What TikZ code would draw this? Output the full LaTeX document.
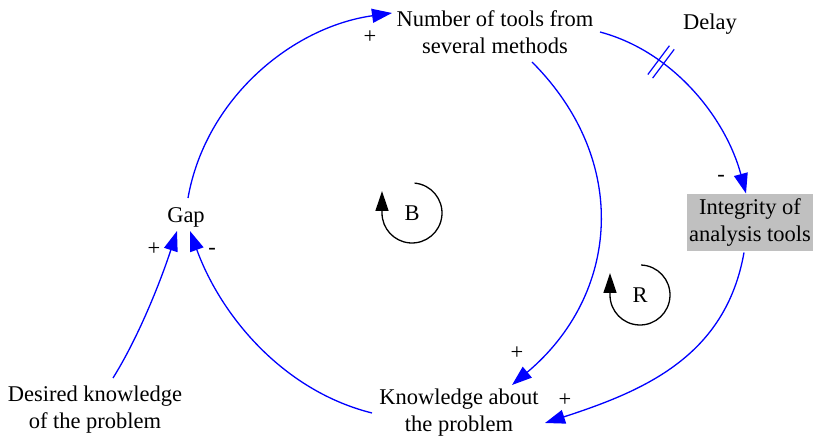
\documentclass[tikz,border=0pt]{standalone}
\usepackage{fontspec}
\setmainfont{Liberation Serif}
\usetikzlibrary{arrows.meta,decorations.markings}
\definecolor{linkblue}{RGB}{0,0,255}
\definecolor{boxgrey}{RGB}{192,192,192}
\tikzset{
  >={Triangle[length=20pt,width=14pt]},
  var/.style={align=center,inner sep=1pt,font=\fontsize{22.5}{27}\selectfont},
  keyvar/.style={var,fill=boxgrey,minimum width=126pt,minimum height=57pt,inner sep=0pt},
  link/.style={->,draw=linkblue,line width=1.3pt},
  sign/.style={font=\fontsize{22.5}{27}\selectfont,inner sep=0pt},
  loopmark/.style={-{Triangle[length=20pt,width=13pt]},draw=black,line width=1.3pt},
  delaymark/.style={postaction={decorate,decoration={markings,mark=at position #1 with {
    \draw[-,linkblue,line width=1.2pt] (-3,-18) -- (-3,18) (3,-18) -- (3,18);}}}},
}
\begin{document}
\begin{tikzpicture}[x=1pt,y=1pt]
\useasboundingbox (0,0) rectangle (814,441);
% variables
\node[var] (num) at (495,409) {Number of tools from\\several methods};
\node[var] (gap) at (186,224) {Gap};
\node[keyvar] (integ) at (750,218.5) {Integrity of\\analysis tools};
\node[var] (know) at (459,28) {Knowledge about\\the problem};
\node[var] (desired) at (95,31) {Desired knowledge\\of the problem};
\node[var] (delaylbl) at (710,417) {Delay};
% loop markers
\node[var] (B) at (412,228) {B};
\node[var] (R) at (640,146) {R};
\draw[loopmark] ([shift={(85:30)}]B.center) arc[start angle=85,end angle=-180,radius=30] -- ++(0,22);
\draw[loopmark] ([shift={(88:30)}]R.center) arc[start angle=88,end angle=-180,radius=30] -- ++(0,22);
% causal links
\draw[link] ([shift={(2,19)}]gap.center) to[out=80,in=188,distance=101pt] ([shift={(-103,19)}]num.center);
\draw[link] ([shift={(37,-30)}]num.center) to[out=-45,in=40,distance=140pt] ([shift={(53,28)}]know.center);
\draw[link,delaymark=0.3] ([shift={(105,0)}]num.center) to[out=-15,in=105,distance=77pt] ([shift={(-4,29)}]integ.center);
\draw[link] ([shift={(-6,-30)}]integ.center) to[out=-100,in=18,distance=105pt] ([shift={(86,-10)}]know.center);
\draw[link] ([shift={(-87,0)}]know.center) to[out=166,in=-70,distance=91pt] ([shift={(4,-14)}]gap.center);
\draw[link] ([shift={(18,32)}]desired.center) to[out=58,in=-108,distance=50pt] ([shift={(-9,-14)}]gap.center);
% polarities
\foreach \n/\x/\y/\s in {s1/370/404/+,s2/517/88/+,s3/721/263/-,s4/565/41/+,s5/212/190/-,s6/154/192/+}
  \node[sign] (\n) at (\x,\y) {\s};
\end{tikzpicture}
\end{document}
